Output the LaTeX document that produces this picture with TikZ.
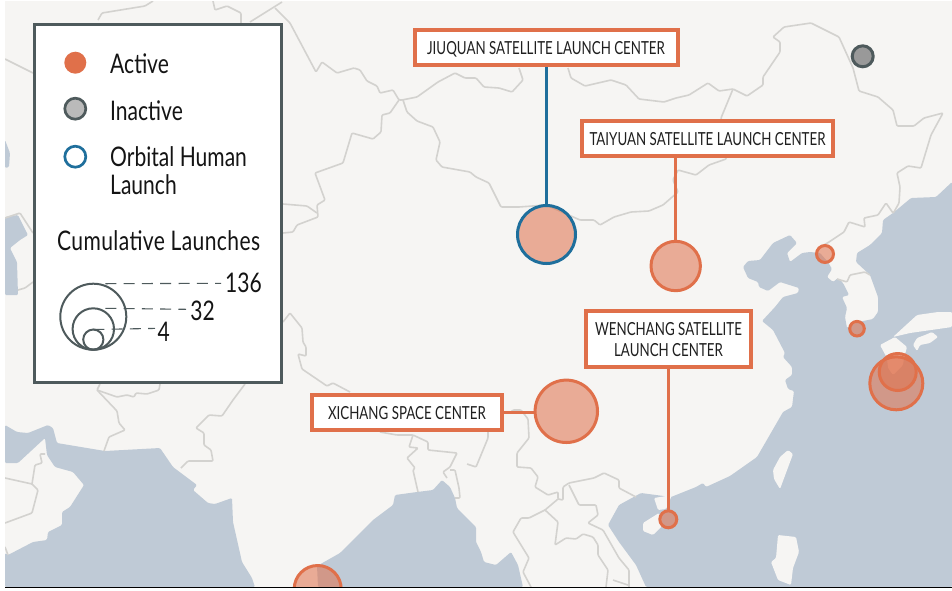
\documentclass[tikz,border=0pt]{standalone}
\usepackage{fontspec}
\setmainfont[FakeStretch=0.78]{Lato}
\newfontfamily\calloutfont[FakeStretch=0.74]{Lato}
\newcommand\lowr[1]{\raisebox{0pt}[14pt][0pt]{#1}}
\newcommand\lowrb[1]{\raisebox{0pt}[13pt][0pt]{#1}}
\definecolor{land}{HTML}{F6F5F3}
\definecolor{water}{HTML}{BFCAD6}
\definecolor{bord}{HTML}{D3D2CF}
\definecolor{orng}{HTML}{E0704A}
\definecolor{slate}{HTML}{4E5A5C}
\definecolor{blu}{HTML}{1F6F9C}
\tikzset{
  bline/.style={draw=bord,line width=1.6pt,line join=round,rounded corners=1pt},
  sea/.style={fill=water,rounded corners=1.2pt},
  terra/.style={fill=land,rounded corners=1.2pt},
  callout/.style={draw=orng,fill=white,line width=4pt,inner sep=0pt,outer sep=0pt,align=center,font=\calloutfont\fontsize{18}{21}\selectfont,text=black!88},
  site/.style={circle,draw=orng,fill=orng,fill opacity=.55,draw opacity=1,line width=3pt,inner sep=0pt,outer sep=0pt},
  conn/.style={draw=orng,line width=2.7pt},
  legtext/.style={anchor=base west,font=\fontsize{27}{28}\selectfont,inner sep=0pt,text=black!92},
  sizeref/.style={circle,draw=slate,line width=2pt,inner sep=0pt,outer sep=0pt},
  guide/.style={draw=slate,line width=1.1pt,dash pattern=on 11pt off 7.3pt},
}
\begin{document}
\begin{tikzpicture}[x=1pt,y=-1pt]
\useasboundingbox (0,0) rectangle (952,590);
\fill[white] (0,0) rectangle (952,590);
\begin{scope}
\clip (5,1) rectangle (952,587);
\fill[land] (5,1) rectangle (952,587);
% waters
\fill[sea] (952,182)--(936,197)--(911,198)--(893,213)--(883,220)--(882,233)--(870,245)--(857,253)--(856,262)--(870,275)--(878,297)--(878,312)--(873,319)--(858,322)--(847,328)--(845,317)--(847,308)--(842,297)--(849,295)--(843,283)--(838,278)--(833,282)--(827,277)--(832,269)--(828,262)--(820,253)--(810,252)--(802,253)--(790,262)--(787,253)--(797,243)--(790,235)--(773,243)--(760,260)--(748,261)--(743,267)--(748,278)--(758,282)--(759,287)--(768,291)--(780,282)--(799,288)--(798,293)--(783,297)--(775,307)--(762,321)--(773,330)--(785,353)--(783,357)--(792,367)--(792,375)--(785,380)--(788,389)--(794,391)--(792,407)--(783,412)--(757,457)--(730,476)--(706,487)--(703,483)--(696,487)--(671,497)--(641,493)--(619,505)--(608,525)--(619,542)--(636,565)--(646,587)--(952,587)--cycle;
\fill[sea] (5,425)--(17,432)--(28,433)--(48,425)--(53,428)--(57,443)--(105,451)--(160,448)--(173,467)--(197,485)--(193,490)--(208,503)--(215,504)--(232,498)--(233,522)--(242,562)--(252,578)--(255,587)--(5,587)--(5,553)--(8,555)--(33,542)--(47,540)--(48,532)--(62,525)--(62,512)--(70,507)--(84,485)--(73,472)--(55,467)--(47,455)--(45,438)--(18,463)--(5,463)--cycle;
\fill[sea] (317,566)--(340,553)--(373,520)--(393,505)--(395,495)--(417,492)--(433,490)--(442,480)--(450,487)--(455,498)--(457,508)--(476,527)--(476,542)--(481,552)--(484,562)--(496,565)--(511,552)--(518,565)--(523,587)--(318,587)--cycle;
\fill[sea] (5,140)--(10,153)--(9,167)--(5,168)--cycle;
\fill[sea] (5,217)--(18,215)--(28,235)--(20,240)--(10,248)--(17,262)--(18,295)--(5,295)--cycle;
% islands
\fill[terra] (788,450)--(793,454)--(780,489)--(774,479)--(773,470)--(780,457)--cycle;
\fill[terra] (643,523)--(659,513)--(663,525)--(653,535)--(643,531)--cycle;
\fill[terra] (654,498)--(672,495)--(666,509)--(658,510)--cycle;
\fill[terra] (778,535)--(796,537)--(799,552)--(793,568)--(791,585)--(778,580)--(771,562)--(776,558)--cycle;
\fill[terra] (952,312)--(938,312)--(917,315)--(893,337)--(910,333)--(952,327)--cycle;
\fill[terra] (895,337)--(880,345)--(887,358)--(888,368)--(893,375)--(903,365)--(904,358)--(907,347)--cycle;
\fill[terra] (913,345)--(917,338)--(925,335)--(932,332)--(938,337)--(930,343)--(920,345)--(917,351)--cycle;
% borders
\draw[bline] (5,59)--(33,73);
\draw[bline] (98,20)--(102,13)--(145,6)--(153,1);
\draw[bline] (213,1)--(215,10)--(227,6)--(241,13)--(241,23);
\draw[bline] (250,22)--(282,2);
\draw[bline] (275,8)--(290,23)--(316,72)--(322,62)--(337,73)--(354,68)--(360,70)--(367,81)--(377,86)--(380,93)--(393,90)--(399,100)--(402,100)--(417,97)--(438,82)--(455,73)--(465,78)--(476,78)--(484,87)--(499,88)--(512,92)--(523,80)--(519,68);
\draw[bline] (399,100)--(390,113)--(382,115)--(381,132)--(373,139)--(352,133)--(343,163)--(315,173)--(325,200)--(317,205)--(318,217)--(297,225)--(293,232)--(283,233);
\draw[bline] (283,204)--(307,206)--(317,213);
\draw[bline] (403,100)--(407,112)--(417,121)--(433,127)--(440,142)--(436,160)--(442,167)--(470,172)--(476,177)--(489,183)--(501,207)--(519,207)--(546,205)--(580,220)--(594,220)--(600,225)--(614,217)--(631,212)--(649,211)--(663,205)--(678,192)--(673,180)--(678,170)--(696,175)--(709,165)--(726,159);
\draw[bline] (568,68)--(571,78)--(585,86)--(611,80)--(626,85)--(639,99)--(664,102)--(676,98)--(689,95)--(708,83)--(719,91)--(733,89)--(747,96)--(763,85)--(763,77)--(780,52)--(780,42)--(773,37)--(784,27)--(811,23)--(839,37)--(853,68)--(859,91)--(878,97)--(893,110)--(897,126)--(914,126)--(924,118)--(943,113)--(931,135)--(921,168)--(908,166)--(897,173)--(900,187)--(899,203)--(894,212)--(893,213)--(886,203)--(878,215)--(864,218)--(865,227)--(849,222)--(844,232)--(829,242)--(819,248);
\draw[bline] (733,89)--(721,118)--(726,159);
\draw[bline] (837,279)--(847,282)--(850,275)--(865,272)--(870,275);
\draw[bline] (283,322)--(290,313)--(302,328)--(303,342)--(306,347)--(306,356)--(298,354)--(302,369)--(327,386)--(333,383)--(350,392);
\draw[bline] (100,384)--(97,390)--(117,397)--(127,395)--(134,397)--(136,393)--(147,394)--(159,390)--(160,384);
\draw[bline] (97,390)--(117,411)--(119,423)--(125,430)--(109,437)--(104,451);
\draw[bline] (245,384)--(233,400)--(222,416)--(209,415)--(196,428)--(204,433)--(204,445)--(211,450)--(213,461)--(188,461)--(181,468);
\draw[bline] (380,432)--(397,435)--(408,435)--(413,435)--(428,442)--(428,450)--(457,453)--(450,467)--(443,472)--(447,478);
\draw[bline] (413,435)--(409,447)--(418,448)--(407,458)--(415,468)--(413,470)--(418,492);
\draw[bline] (450,470)--(455,470)--(459,488)--(460,498)--(455,498);
\draw[bline] (467,464)--(476,467)--(481,455)--(488,438)--(488,428);
\draw[bline] (503,413)--(511,412)--(513,410)--(521,410)--(528,419)--(529,438)--(517,453)--(517,467)--(531,468)--(538,477)--(535,487)--(548,495)--(558,492)--(558,499)--(563,500)--(563,487)--(569,483)--(594,478)--(604,473)--(619,480)--(619,488)--(636,497);
\draw[bline] (569,485)--(579,505)--(596,505)--(598,515)--(588,523)--(603,530)--(619,558)--(629,570)--(629,587);
\draw[bline] (558,499)--(545,510)--(529,518)--(521,518)--(513,532)--(529,558)--(523,572)--(531,587);
\draw[bline] (545,510)--(558,522)--(555,545)--(566,538)--(576,539)--(583,534)--(593,537)--(598,545)--(598,555)--(608,570)--(606,587);
\draw[bline] (613,580)--(628,585);
\draw[bline] (5,478)--(32,484)--(38,490)--(32,513)--(5,523);
\draw[bline] (32,484)--(35,465)--(42,463)--(40,454)--(45,454);
\draw[bline] (5,547)--(8,555);
\draw[bline] (33,233)--(20,213)--(5,218);
\draw[bline] (33,282)--(25,288)--(18,290);
% minor sites
\node[site,minimum size=47pt] (sindia) at (317.7,589) {};
\end{scope}
\draw[black,line width=1pt] (5,587.3)--(952,587.3);
% sites
\node[site,draw=blu,minimum size=58pt] (jqc) at (546.5,234.5) {};
\node[site,minimum size=49.4pt] (tyc) at (675.7,266) {};
\node[site,minimum size=62.4pt] (xcc) at (566.3,411.3) {};
\node[site,minimum size=17pt] (wcc) at (668.3,519.3) {};
\node[site,minimum size=17pt] (krn) at (825,254) {};
\node[site,minimum size=14.6pt] (krs) at (857,328.7) {};
\node[site,minimum size=53pt] (jpa) at (896.3,383.3) {};
\node[site,minimum size=37pt] (jpb) at (897.7,372) {};
\node[circle,draw=slate,fill=black!40,line width=3pt,inner sep=0pt,outer sep=0pt,minimum size=21pt] (ru) at (862.7,56.3) {};
% callouts
\node[callout,minimum width=263pt,minimum height=35pt] (jq) at (546,47.5) {\lowr{JIUQUAN SATELLITE LAUNCH CENTER}};
\node[callout,minimum width=251.6pt,minimum height=35pt] (ty) at (707.5,138.7) {\lowr{TAIYUAN SATELLITE LAUNCH CENTER}};
\node[callout,minimum width=165.6pt,minimum height=56pt] (wc) at (668.5,339.3) {\lowrb{WENCHANG SATELLITE}\\\lowrb{LAUNCH CENTER}};
\node[callout,minimum width=189.6pt,minimum height=35pt] (xc) at (406.9,412.8) {\lowr{XICHANG SPACE CENTER}};
\draw[blu,line width=2.7pt] (jq.south -| jqc.north) ++(0,2) -- (jqc.north);
\draw[conn] (ty.south -| tyc.north) ++(0,2) -- (tyc.north);
\draw[conn] (wc.south -| wcc.north) ++(0,2) -- (wcc.north);
\draw[conn] (xc.east) ++(2,0) -- (xc.east -| xcc.west);
% legend
\node[draw=slate,fill=white,line width=2.5pt,minimum width=247pt,minimum height=358pt,inner sep=0pt,outer sep=0pt] (leg) at (158,203.5) {};
\node[circle,fill=orng,inner sep=0pt,minimum size=22pt] (ka) at (75.3,62.7) {};
\node[circle,draw=slate,fill=black!27,line width=2.7pt,inner sep=0pt,minimum size=21pt] (ki) at (75.3,108.7) {};
\node[circle,draw=blu,fill=white,line width=2.7pt,inner sep=0pt,minimum size=21pt] (ko) at (75.3,156.7) {};
\node[legtext] (ta) at (110,73.5) {Active};
\node[legtext] (ti) at (110,120.5) {Inactive};
\node[legtext] (to) at (110,166.5) {Orbital Human};
\node[legtext] (tl) at (110,194.5) {Launch};
\node[legtext] (tc) at (57,250.5) {\addfontfeature{LetterSpace=1.4}Cumulative Launches};
\node[sizeref,minimum size=66pt] (s3) at (93.3,316.7) {};
\node[sizeref,minimum size=41.4pt] (s2) at (93.3,329) {};
\node[sizeref,minimum size=20.2pt] (s1) at (93.3,339.6) {};
\node[legtext,anchor=base east] (n136) at (262,292) {136};
\node[legtext,anchor=base east] (n32) at (215,320) {32};
\node[legtext,anchor=base east] (n4) at (170,341) {4};
\draw[guide] (s3.north) ++(12,0) -- (221,283.3);
\draw[guide] (s2.north) ++(12,0) -- (186,309.3);
\draw[guide] (s1.north) -- (155,328.4);
\end{tikzpicture}
\end{document}
